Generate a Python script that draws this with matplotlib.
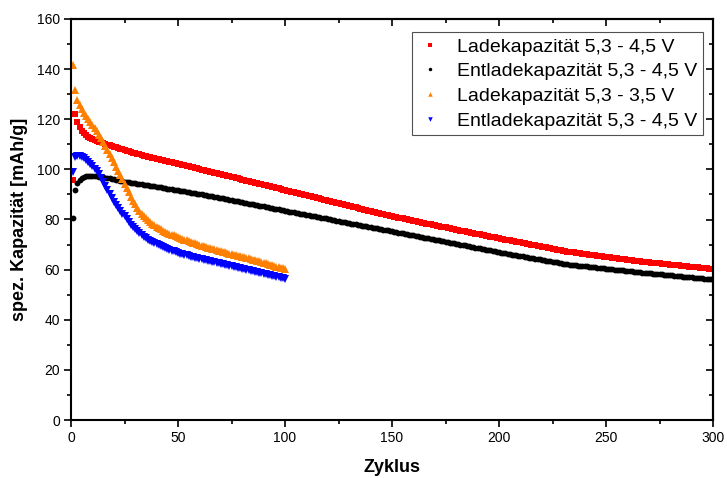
import numpy as np
import matplotlib
matplotlib.use("Agg")
import matplotlib.pyplot as plt
from matplotlib.ticker import MultipleLocator

plt.rcParams['font.family'] = ['Liberation Sans', 'DejaVu Sans']

# Charge / discharge capacities, one value per cycle
lade_45 = [
    95.8, 122.1, 119.0, 116.8, 115.3, 114.4, 113.7, 113.1, 112.6, 112.2,
    111.8, 111.4, 111.1, 110.8, 110.5, 110.2, 109.9, 109.6, 109.3, 109.0,
    108.8, 108.5, 108.2, 108.0, 107.7, 107.5, 107.2, 107.0, 106.7, 106.5,
    106.2, 106.0, 105.7, 105.5, 105.2, 105.0, 104.8, 104.6, 104.4, 104.2,
    104.0, 103.8, 103.6, 103.4, 103.2, 103.0, 102.8, 102.6, 102.4, 102.2,
    102.0, 101.8, 101.6, 101.4, 101.2, 101.0, 100.8, 100.6, 100.4, 100.2,
    99.9, 99.7, 99.5, 99.3, 99.1, 98.9, 98.7, 98.5, 98.3, 98.1,
    97.9, 97.6, 97.4, 97.2, 97.0, 96.8, 96.6, 96.4, 96.2, 95.9,
    95.7, 95.5, 95.3, 95.1, 94.9, 94.7, 94.5, 94.3, 94.0, 93.8,
    93.6, 93.4, 93.2, 93.0, 92.8, 92.6, 92.4, 92.1, 91.9, 91.7,
    91.5, 91.3, 91.1, 90.9, 90.7, 90.5, 90.3, 90.0, 89.8, 89.6,
    89.4, 89.2, 89.0, 88.8, 88.6, 88.4, 88.1, 87.9, 87.7, 87.5,
    87.3, 87.1, 86.9, 86.7, 86.5, 86.2, 86.0, 85.8, 85.6, 85.4,
    85.2, 85.0, 84.8, 84.6, 84.3, 84.1, 83.9, 83.7, 83.5, 83.3,
    83.1, 82.9, 82.7, 82.4, 82.2, 82.0, 81.8, 81.6, 81.4, 81.2,
    81.1, 80.9, 80.7, 80.5, 80.4, 80.2, 80.0, 79.8, 79.7, 79.5,
    79.3, 79.1, 79.0, 78.8, 78.6, 78.4, 78.3, 78.1, 77.9, 77.7,
    77.6, 77.4, 77.2, 77.0, 76.9, 76.7, 76.5, 76.3, 76.2, 76.0,
    75.8, 75.6, 75.5, 75.3, 75.1, 74.9, 74.8, 74.6, 74.4, 74.2,
    74.1, 73.9, 73.7, 73.5, 73.4, 73.2, 73.0, 72.9, 72.7, 72.5,
    72.3, 72.2, 72.0, 71.9, 71.7, 71.5, 71.4, 71.2, 71.0, 70.9,
    70.7, 70.5, 70.4, 70.2, 70.0, 69.9, 69.7, 69.5, 69.4, 69.2,
    69.0, 68.9, 68.7, 68.5, 68.4, 68.2, 68.0, 67.9, 67.7, 67.5,
    67.4, 67.2, 67.1, 67.0, 66.9, 66.7, 66.6, 66.5, 66.4, 66.3,
    66.2, 66.0, 65.9, 65.8, 65.7, 65.6, 65.5, 65.3, 65.2, 65.1,
    65.0, 64.9, 64.8, 64.6, 64.5, 64.4, 64.3, 64.2, 64.1, 64.0,
    63.8, 63.7, 63.6, 63.5, 63.4, 63.3, 63.2, 63.1, 63.0, 62.9,
    62.8, 62.8, 62.7, 62.6, 62.5, 62.4, 62.3, 62.2, 62.1, 62.0,
    61.9, 61.9, 61.8, 61.7, 61.6, 61.5, 61.4, 61.3, 61.2, 61.1,
    61.0, 61.0, 60.9, 60.8, 60.7, 60.6, 60.5, 60.4, 60.3, 60.2,
]

entlade_45 = [
    80.7, 91.8, 94.4, 95.6, 96.4, 96.9, 97.2, 97.3, 97.4, 97.4,
    97.3, 97.2, 97.1, 97.0, 96.8, 96.7, 96.5, 96.4, 96.2, 96.0,
    95.8, 95.6, 95.4, 95.3, 95.1, 95.0, 94.9, 94.7, 94.6, 94.5,
    94.3, 94.2, 94.1, 93.9, 93.8, 93.7, 93.5, 93.4, 93.2, 93.1,
    92.9, 92.8, 92.6, 92.5, 92.3, 92.2, 92.1, 91.9, 91.8, 91.6,
    91.5, 91.3, 91.2, 91.0, 90.9, 90.7, 90.6, 90.4, 90.3, 90.1,
    90.0, 89.8, 89.7, 89.5, 89.4, 89.2, 89.0, 88.9, 88.7, 88.5,
    88.4, 88.2, 88.0, 87.9, 87.7, 87.5, 87.3, 87.2, 87.0, 86.8,
    86.7, 86.5, 86.3, 86.2, 86.0, 85.8, 85.7, 85.5, 85.3, 85.2,
    85.0, 84.8, 84.7, 84.5, 84.3, 84.1, 84.0, 83.8, 83.6, 83.5,
    83.3, 83.1, 83.0, 82.8, 82.7, 82.5, 82.3, 82.2, 82.0, 81.8,
    81.7, 81.5, 81.4, 81.2, 81.0, 80.9, 80.7, 80.5, 80.4, 80.2,
    80.1, 79.9, 79.7, 79.6, 79.4, 79.2, 79.1, 78.9, 78.8, 78.6,
    78.4, 78.3, 78.1, 77.9, 77.8, 77.6, 77.5, 77.3, 77.1, 77.0,
    76.8, 76.6, 76.5, 76.3, 76.2, 76.0, 75.8, 75.7, 75.5, 75.3,
    75.2, 75.0, 74.8, 74.7, 74.5, 74.3, 74.2, 74.0, 73.8, 73.7,
    73.5, 73.3, 73.2, 73.0, 72.8, 72.7, 72.5, 72.3, 72.2, 72.0,
    71.8, 71.7, 71.5, 71.3, 71.2, 71.0, 70.8, 70.7, 70.5, 70.3,
    70.2, 70.0, 69.8, 69.7, 69.5, 69.3, 69.2, 69.0, 68.8, 68.7,
    68.5, 68.3, 68.2, 68.0, 67.8, 67.7, 67.5, 67.3, 67.1, 67.0,
    66.8, 66.7, 66.5, 66.4, 66.2, 66.0, 65.9, 65.7, 65.6, 65.4,
    65.3, 65.1, 65.0, 64.8, 64.7, 64.5, 64.4, 64.2, 64.1, 63.9,
    63.8, 63.6, 63.5, 63.3, 63.2, 63.0, 62.9, 62.7, 62.6, 62.4,
    62.3, 62.1, 62.0, 61.9, 61.8, 61.7, 61.6, 61.5, 61.4, 61.3,
    61.3, 61.2, 61.1, 61.0, 60.9, 60.8, 60.7, 60.6, 60.5, 60.4,
    60.3, 60.2, 60.1, 60.0, 59.9, 59.8, 59.7, 59.7, 59.6, 59.5,
    59.4, 59.3, 59.2, 59.1, 59.0, 58.9, 58.8, 58.7, 58.6, 58.6,
    58.5, 58.4, 58.3, 58.2, 58.1, 58.1, 58.0, 57.9, 57.8, 57.7,
    57.7, 57.6, 57.5, 57.4, 57.3, 57.2, 57.2, 57.1, 57.0, 56.9,
    56.8, 56.8, 56.7, 56.6, 56.5, 56.4, 56.3, 56.3, 56.2, 56.1,
]

lade_35 = [
    141.7, 131.7, 127.7, 125.5, 124.0, 122.5, 121.1, 120.0, 119.0, 117.8,
    116.6, 115.3, 113.9, 112.5, 111.0, 109.5, 107.9, 106.2, 104.5, 102.8,
    101.1, 99.4, 97.7, 96.0, 94.3, 92.5, 90.8, 89.1, 87.5, 86.0,
    84.6, 83.4, 82.3, 81.4, 80.6, 79.8, 79.1, 78.4, 77.7, 77.1,
    76.6, 76.1, 75.6, 75.2, 74.8, 74.4, 74.0, 73.7, 73.3, 73.0,
    72.6, 72.3, 72.0, 71.7, 71.4, 71.1, 70.8, 70.5, 70.2, 69.9,
    69.6, 69.4, 69.1, 68.8, 68.6, 68.3, 68.1, 67.8, 67.6, 67.3,
    67.1, 66.9, 66.7, 66.4, 66.2, 66.0, 65.8, 65.6, 65.4, 65.2,
    64.9, 64.7, 64.5, 64.3, 64.0, 63.8, 63.5, 63.3, 63.0, 62.8,
    62.5, 62.3, 62.0, 61.8, 61.5, 61.2, 61.0, 60.7, 60.5, 60.2,
]

entlade_35 = [
    99.1, 104.8, 105.2, 105.3, 105.0, 104.5, 103.8, 103.0, 102.1, 101.2,
    100.3, 99.3, 98.0, 96.5, 95.0, 93.4, 91.8, 90.2, 88.6, 87.1,
    85.8, 84.6, 83.5, 82.3, 81.2, 80.1, 79.0, 78.0, 77.0, 76.1,
    75.3, 74.5, 73.8, 73.2, 72.6, 72.0, 71.5, 71.0, 70.5, 70.1,
    69.7, 69.3, 68.9, 68.6, 68.2, 67.9, 67.6, 67.3, 67.0, 66.7,
    66.4, 66.2, 65.9, 65.7, 65.4, 65.2, 65.0, 64.7, 64.5, 64.3,
    64.1, 63.9, 63.7, 63.5, 63.3, 63.2, 63.0, 62.8, 62.6, 62.4,
    62.2, 62.0, 61.8, 61.6, 61.4, 61.2, 61.0, 60.8, 60.6, 60.4,
    60.2, 60.0, 59.8, 59.6, 59.4, 59.2, 59.0, 58.8, 58.6, 58.4,
    58.2, 58.0, 57.8, 57.6, 57.4, 57.1, 56.9, 56.7, 56.5, 56.3,
]

labels = [
    "Ladekapazität 5,3 - 4,5 V",
    "Entladekapazität 5,3 - 4,5 V",
    "Ladekapazität 5,3 - 3,5 V",
    "Entladekapazität 5,3 - 4,5 V",
]

zyklen_300 = np.arange(1, len(lade_45) + 1)
zyklen_100 = np.arange(1, len(lade_35) + 1)

fig = plt.figure(figsize=(7.27, 4.78), dpi=100)
ax = fig.add_axes([71 / 727, 58 / 478, 642 / 727, 401 / 478])

ax.plot(zyklen_300, lade_45, ls='none', marker='s', ms=3.9, mew=0,
        color='#FF0000', label=labels[0])
ax.plot(zyklen_300, entlade_45, ls='none', marker='o', ms=4.2, mew=0,
        color='#000000', label=labels[1])
ax.plot(zyklen_100, lade_35, ls='none', marker='^', ms=5.4, mew=0,
        color='#FF8000', label=labels[2])
ax.plot(zyklen_100, entlade_35, ls='none', marker='v', ms=5.4, mew=0,
        color='#0000FF', label=labels[3])

ax.set_xlim(0, 300)
ax.set_ylim(0, 160)
ax.xaxis.set_major_locator(MultipleLocator(50))
ax.xaxis.set_minor_locator(MultipleLocator(25))
ax.yaxis.set_major_locator(MultipleLocator(20))
ax.yaxis.set_minor_locator(MultipleLocator(10))

for sp in ax.spines.values():
    sp.set_linewidth(1.5)

ax.tick_params(which='major', direction='out', length=5, width=1.2,
               labelsize=10, pad=3)
ax.tick_params(which='minor', direction='out', length=3, width=1.2)

# mirrored ticks on the top and right edges, pointing inward
top = ax.secondary_xaxis('top')
top.xaxis.set_major_locator(MultipleLocator(50))
top.xaxis.set_minor_locator(MultipleLocator(25))
top.tick_params(which='major', direction='in', length=5, width=1.2,
                labeltop=False)
top.tick_params(which='minor', direction='in', length=3, width=1.2)
top.spines['top'].set_linewidth(1.5)

right = ax.secondary_yaxis('right')
right.yaxis.set_major_locator(MultipleLocator(20))
right.yaxis.set_minor_locator(MultipleLocator(10))
right.tick_params(which='major', direction='in', length=5, width=1.2,
                  labelright=False)
right.tick_params(which='minor', direction='in', length=3, width=1.2)
right.spines['right'].set_linewidth(1.5)

ax.set_xlabel("Zyklus", fontsize=13, fontweight='bold', labelpad=10)
ax.set_ylabel("spez. Kapazität [mAh/g]", fontsize=13, fontweight='bold',
              labelpad=6)

leg = ax.legend(loc='upper right', bbox_to_anchor=(0.985, 0.967),
                borderaxespad=0, fontsize=14, numpoints=1, markerscale=0.6,
                handlelength=1.3, handletextpad=0.75, labelspacing=0.36,
                borderpad=0.3, fancybox=False, framealpha=1)
leg.get_frame().set_edgecolor('#505050')
leg.get_frame().set_linewidth(0.8)

fig.savefig("out.png", dpi=100)
